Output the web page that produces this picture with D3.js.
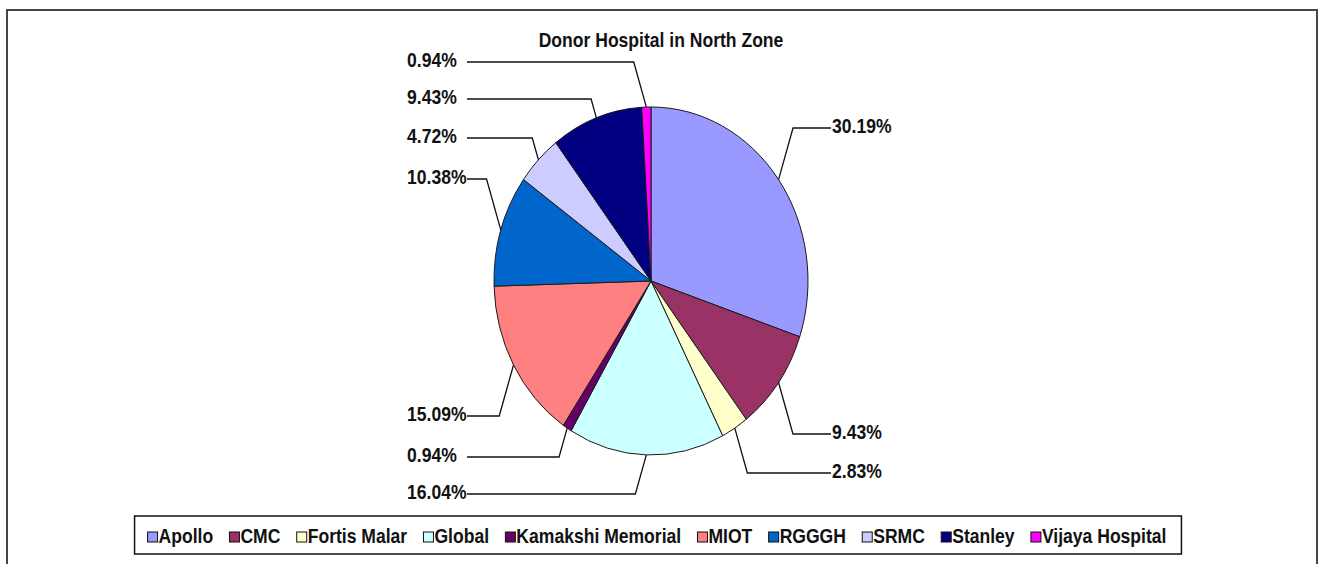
<!DOCTYPE html>
<html>
<head>
<meta charset="utf-8">
<script src="https://cdn.jsdelivr.net/npm/d3@7/dist/d3.min.js"></script>
<style>
  html, body { margin: 0; padding: 0; background: #fff; }
  svg text { font-family: "Liberation Sans", Arial, sans-serif; font-weight: bold; fill: #111; }
</style>
</head>
<body>
<svg id="chart" width="1325" height="564"></svg>
<script>
// ---- data ----
const title = "Donor Hospital in North Zone";
const categories = ["Apollo", "CMC", "Fortis Malar", "Global", "Kamakshi Memorial", "MIOT", "RGGGH", "SRMC", "Stanley", "Vijaya Hospital"];
const values = [30.19, 9.43, 2.83, 16.04, 0.94, 15.09, 10.38, 4.72, 9.43, 0.94];
const colors = ["#9999FF", "#993366", "#FFFFCC", "#CCFFFF", "#660066", "#FF8080", "#0066CC", "#CCCCFF", "#000080", "#FF00FF"];

// ---- layout (label leader line heights) ----
const labelLineY = [128, 434, 473, 494, 457, 416, 179, 138, 99, 62];

const W = 1325, H = 564;
const cx = 651, cy = 281, rx = 157, ry = 174;
const fontSize = 19.5, squeeze = 0.9;

const svg = d3.select("#chart");

// outer frame
svg.append("rect").attr("x", 7).attr("y", 10).attr("width", 1310).attr("height", 600)
  .attr("fill", "none").attr("stroke", "#444").attr("stroke-width", 2);

function addText(g, x, y, txt, anchor) {
  return g.append("text")
    .attr("transform", `translate(${x},${y}) scale(${squeeze},1)`)
    .attr("text-anchor", anchor || "start")
    .style("font-size", fontSize + "px")
    .text(txt);
}

// title
addText(svg, 661, 47, title, "middle");

// pie
const pie = d3.pie().sort(null).value(d => d).startAngle(0).endAngle(2 * Math.PI);
const arcs = pie(values);
const arc = d3.arc().innerRadius(0).outerRadius(rx);

const pg = svg.append("g").attr("transform", `translate(${cx},${cy}) scale(1,${ry / rx})`);
pg.selectAll("path").data(arcs).join("path")
  .attr("d", arc)
  .attr("fill", (d, i) => colors[i])
  .attr("stroke", "#1a1a1a")
  .attr("stroke-width", 1)
  .attr("vector-effect", "non-scaling-stroke");

// labels with leader lines
const lg = svg.append("g");
arcs.forEach((d, i) => {
  const a = (d.startAngle + d.endAngle) / 2;
  const ax = cx + rx * Math.sin(a);
  const ay = cy - ry * Math.cos(a);
  const ly = labelLineY[i];
  const right = a < Math.PI;
  const bx = ax + (right ? 1 : -1) * 0.28 * Math.abs(ly - ay);
  const ex = right ? 831 : 467;
  lg.append("polyline")
    .attr("points", `${ax},${ay} ${bx},${ly} ${ex},${ly}`)
    .attr("fill", "none").attr("stroke", "#111").attr("stroke-width", 1.3);
  const label = values[i].toFixed(2) + "%";
  addText(lg, right ? 832 : 407, ly + 5, label, "start");
});

// legend
const legendBox = svg.append("rect");
const leg = svg.append("g");
const gap = 16.3;
let x = 0;
categories.forEach((c, i) => {
  const g = leg.append("g");
  g.append("rect").attr("x", x).attr("y", 532).attr("width", 10).attr("height", 10)
    .attr("fill", colors[i]).attr("stroke", "#111").attr("stroke-width", 1);
  const t = addText(g, x + 11, 543, c, "start");
  const w = t.node().getComputedTextLength() * squeeze;
  x += 11 + w + gap;
});
const totalW = x - gap;
const startX = 657 - totalW / 2;
leg.attr("transform", `translate(${startX},0)`);
legendBox
  .attr("x", startX - 13).attr("y", 516).attr("width", totalW + 28).attr("height", 38)
  .attr("fill", "#fff").attr("stroke", "#111").attr("stroke-width", 1.5);
</script>
</body>
</html>
